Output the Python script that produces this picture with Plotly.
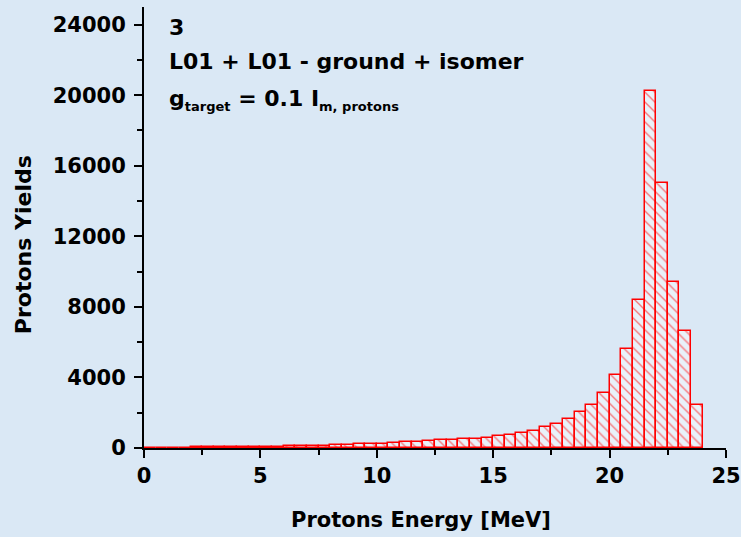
import plotly.graph_objects as go

bin_left = [i * 0.5 for i in range(48)]
yields = [20, 20, 20, 20, 30, 35, 40, 50, 55, 60, 75, 80, 95, 105, 120, 140,
          160, 180, 200, 230, 250, 285, 320, 360, 400, 430, 460, 490, 530, 590, 660, 760,
          830, 965, 1170, 1380, 1630, 2030, 2440, 3140, 4160, 5620, 8380, 20250, 15050, 9400, 6650, 2460]
bin_centers = [b + 0.25 for b in bin_left]

x_ticks = [0, 5, 10, 15, 20, 25]
y_ticks = [0, 4000, 8000, 12000, 16000, 20000, 24000]

font_family = "DejaVu Sans, Liberation Sans, Arial, sans-serif"

fig = go.Figure()
fig.add_trace(go.Bar(
    x=bin_centers, y=yields, width=0.5,
    marker=dict(
        color="rgba(240,246,252,0.7)",
        line=dict(color="#ff0000", width=1.5),
        pattern=dict(shape="\\", fgcolor="#ff0000", size=7, solidity=0.2,
                     fillmode="overlay"),
    ),
    showlegend=False,
))

fig.update_layout(
    width=741, height=537,
    margin=dict(l=144, r=15, t=7, b=89),
    paper_bgcolor="rgb(218,232,245)",
    plot_bgcolor="rgb(218,232,245)",
    bargap=0,
    font=dict(family=font_family, color="black"),
    xaxis=dict(
        range=[0, 25], tickvals=x_ticks, ticktext=["<b>%d</b>" % v for v in x_ticks],
        ticks="outside", ticklen=8, tickwidth=2, tickcolor="black",
        showline=True, linecolor="black", linewidth=2,
        showgrid=False, zeroline=False, automargin=False,
        tickfont=dict(size=21, family=font_family),
        minor=dict(dtick=2.5, tick0=0, ticks="outside", ticklen=5, tickwidth=1.5, tickcolor="black", showgrid=False),
    ),
    yaxis=dict(
        range=[0, 25000], tickvals=y_ticks, ticktext=["<b>%d</b>" % v for v in y_ticks],
        ticks="outside", ticklen=8, tickwidth=2, tickcolor="black",
        showline=True, linecolor="black", linewidth=2,
        showgrid=False, zeroline=False, automargin=False,
        ticklabelstandoff=4,
        tickfont=dict(size=21, family=font_family),
        minor=dict(dtick=2000, tick0=0, ticks="outside", ticklen=5, tickwidth=1.5, tickcolor="black", showgrid=False),
    ),
)

# axis titles
fig.add_annotation(x=11.9, y=0, xref="x", yref="paper", yshift=-72,
                   text="<b>Protons Energy [MeV]</b>", showarrow=False,
                   xanchor="center", yanchor="middle",
                   font=dict(size=21, family=font_family, color="black"))
fig.add_annotation(x=0, y=11500, xref="paper", yref="y", xshift=-121,
                   text="<b>Protons Yields</b>", showarrow=False, textangle=-90,
                   xanchor="center", yanchor="middle",
                   font=dict(size=22, family=font_family, color="black"))

ann_font = dict(size=22, family=font_family, color="black")
fig.add_annotation(x=1.0, y=23850, xref="x", yref="y", text="<b>3</b>", showarrow=False,
                   xanchor="left", yanchor="middle", font=ann_font)
fig.add_annotation(x=1.0, y=21900, xref="x", yref="y", text="<b>L01 + L01 - ground + isomer</b>",
                   showarrow=False, xanchor="left", yanchor="middle", font=ann_font)
fig.add_annotation(x=1.0, y=19700, xref="x", yref="y",
                   text="<b>g<sub><span style='font-size:13px'>target</span></sub> = 0.1 I"
                        "<sub><span style='font-size:13px'>m, protons</span></sub></b>",
                   showarrow=False, xanchor="left", yanchor="middle", font=ann_font)

fig.write_html("out.html")
